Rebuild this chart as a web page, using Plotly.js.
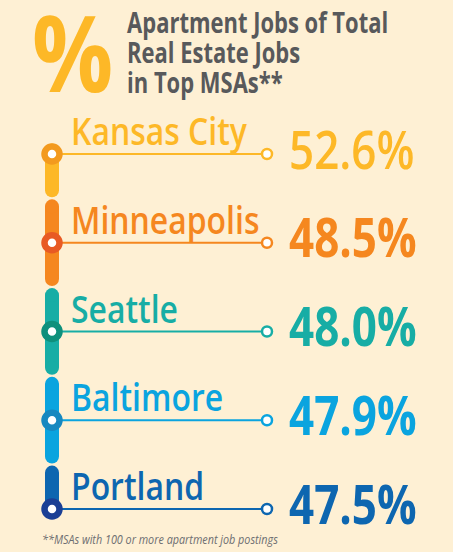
<!DOCTYPE html>
<html>
<head>
<meta charset="utf-8">
<script src="https://cdn.plot.ly/plotly-3.0.1.min.js"></script>
<style>
  html, body { margin: 0; padding: 0; background: #FEF0D4; }
  #chart { width: 453px; height: 552px; }
</style>
</head>
<body>
<div id="chart"></div>
<script>
// data
const cities = ['Kansas City', 'Minneapolis', 'Seattle', 'Baltimore', 'Portland'];
const shares = [52.6, 48.5, 48.0, 47.9, 47.5];
const shareLabels = shares.map(v => v.toFixed(1) + '%');
const titleLines = ['Apartment Jobs of Total', 'Real Estate Jobs', 'in Top MSAs**'];
const footnote = '**MSAs with 100 or more apartment job postings';

// styling
const colors = ['#FDB827', '#F5871F', '#17ADA5', '#0AA4DF', '#0D66B0'];
const ringColors = ['#F39A1E', '#E85A24', '#0E907C', '#1788C0', '#1B3F95'];
const valueWeight = [600, 700, 700, 700, 700];
const FONT = '"Open Sans", Roboto, sans-serif';
const BG = '#FEF0D4';

const W = 453, H = 552;
const BAR_X = 52, END_X = 267, NAME_X = 69, VALUE_X = 287;
const ROW0 = 154, ROW_STEP = 88.75;   // pixel of first row, pixels per row
const CAP = 7 / ROW_STEP, GAP = 1 / ROW_STEP;

const traces = [];
const n = cities.length;

// vertical coloured bar, one rounded segment per city
cities.forEach((c, i) => {
  const top = (i === 0 ? i - 0.13 : i - 0.5) + GAP;
  const bot = (i === n - 1 ? i + 0.05 : i + 0.5) - GAP;
  traces.push({
    x: [BAR_X, BAR_X], y: [top + CAP, bot - CAP],
    mode: 'lines+markers', type: 'scatter',
    line: { color: colors[i], width: 14 },
    marker: { color: colors[i], size: 14 },
    hoverinfo: 'skip'
  });
});

// leader lines
cities.forEach((c, i) => {
  traces.push({
    x: [BAR_X, END_X], y: [i, i],
    mode: 'lines', type: 'scatter',
    line: { color: colors[i], width: 2 },
    hoverinfo: 'skip'
  });
});

// big ring on the bar
traces.push({
  x: cities.map(() => BAR_X), y: cities.map((c, i) => i),
  mode: 'markers', type: 'scatter',
  marker: { color: '#FFFFFF', size: 15, line: { color: ringColors, width: 6.5 } },
  hoverinfo: 'skip'
});

// small open circle at the end of each line
traces.push({
  x: cities.map(() => END_X), y: cities.map((c, i) => i),
  mode: 'markers', type: 'scatter',
  marker: { color: '#FFFFFF', size: 10, line: { color: colors, width: 2.5 } },
  hoverinfo: 'skip'
});

// annotations + horizontal squeeze per annotation (the original type is condensed)
const annotations = [];
const squeeze = [];

cities.forEach((c, i) => {
  annotations.push({
    x: NAME_X, y: i, xref: 'x', yref: 'y',
    xanchor: 'left', yanchor: 'bottom', yshift: -4,
    text: c, showarrow: false,
    font: { family: FONT, size: 38, color: colors[i], weight: 600 }
  });
  squeeze.push(0.84);
  annotations.push({
    x: VALUE_X, y: i, xref: 'x', yref: 'y',
    xanchor: 'left', yanchor: 'middle', yshift: 6,
    text: shareLabels[i], showarrow: false,
    font: { family: FONT, size: 53, color: colors[i], weight: valueWeight[i] }
  });
  squeeze.push(0.83);
});

// big % sign
annotations.push({
  x: 30, y: 51, xref: 'x', yref: 'paper',
  xanchor: 'left', yanchor: 'middle', text: '%', showarrow: false,
  font: { family: FONT, size: 106, color: '#FDB827', weight: 700 }
});
squeeze.push(0.85);

titleLines.forEach((t, k) => {
  annotations.push({
    x: 125, y: 22 + k * 30, xref: 'x', yref: 'paper',
    xanchor: 'left', yanchor: 'middle', text: t, showarrow: false,
    font: { family: FONT, size: 28, color: '#58595B', weight: 700 }
  });
  squeeze.push(0.785);
});

annotations.push({
  x: 40, y: 539, xref: 'x', yref: 'paper',
  xanchor: 'left', yanchor: 'middle', text: '<i>' + footnote + '</i>', showarrow: false,
  font: { family: FONT, size: 12, color: '#6D6E71' }
});
squeeze.push(0.9);

// paper y given in pixels from top -> convert to paper fraction
annotations.forEach(a => {
  if (a.yref === 'paper') a.y = 1 - a.y / H;
});

const layout = {
  width: W, height: H,
  margin: { l: 0, r: 0, t: 0, b: 0, pad: 0 },
  paper_bgcolor: BG, plot_bgcolor: BG,
  showlegend: false,
  xaxis: { range: [0, W], visible: false, fixedrange: true },
  yaxis: { range: [(H - ROW0) / ROW_STEP, -ROW0 / ROW_STEP], visible: false, fixedrange: true },
  annotations: annotations
};

Plotly.newPlot('chart', traces, layout, { displayModeBar: false, staticPlot: true }).then(gd => {
  gd.querySelectorAll('g.annotation').forEach(g => {
    const sx = squeeze[+g.getAttribute('data-index')];
    const t = g.querySelector('text.annotation-text');
    if (!t || !sx) return;
    t.style.transformBox = 'fill-box';
    t.style.transformOrigin = 'left center';
    t.style.transform = 'scaleX(' + sx + ')';
  });
});
</script>
</body>
</html>
